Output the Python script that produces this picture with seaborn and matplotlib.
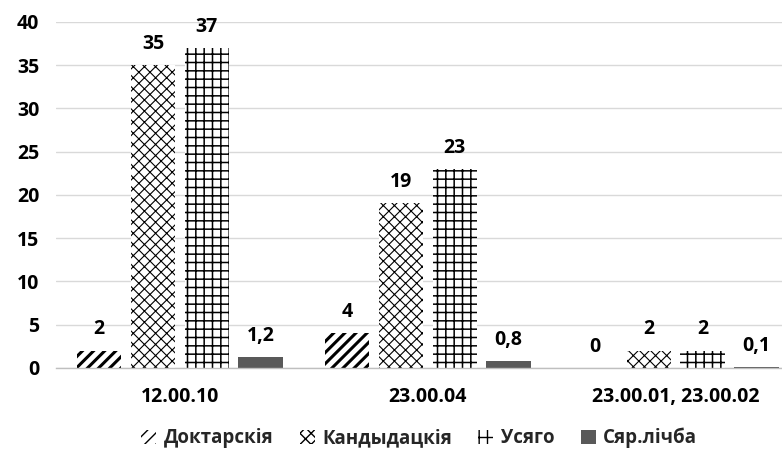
import matplotlib
matplotlib.use("Agg")
import matplotlib.pyplot as plt
import matplotlib.patches as mpatches
import pandas as pd
import seaborn as sns

categories = ["12.00.10", "23.00.04", "23.00.01, 23.00.02"]
series = ["Доктарскія", "Кандыдацкія", "Усяго", "Сяр.лічба"]
doktarskija = [2, 4, 0]
kandydackija = [35, 19, 2]
usiaho = [37, 23, 2]
siar_lichba = [1.2, 0.8, 0.1]
y_ticks = [0, 5, 10, 15, 20, 25, 30, 35, 40]

values = [doktarskija, kandydackija, usiaho, siar_lichba]
rows = []
for name, vals in zip(series, values):
    for cat, v in zip(categories, vals):
        rows.append({"cat": cat, "series": name, "value": v})
df = pd.DataFrame(rows)

sns.set_theme(style="white")
plt.rcParams["font.family"] = ["Open Sans", "DejaVu Sans"]
plt.rcParams["font.weight"] = "bold"
plt.rcParams["hatch.linewidth"] = 1.0

# hatch, face colour, hatch line width
styles = [
    ("///", "white", 2.2),
    ("xxx", "white", 0.8),
    ("++", "white", 1.1),
    ("", "#595959", 0.0),
]

fig = plt.figure(figsize=(7.82, 4.53), dpi=100)
# the plot area runs a little past the right edge, as in the source image
ax = fig.add_axes([0.0716, 0.188, 0.951, 0.764])

sns.barplot(data=df, x="cat", y="value", hue="series", order=categories,
            hue_order=series, width=0.868, gap=0.175, legend=False, ax=ax,
            errorbar=None)

for cont, (hatch, face, hlw) in zip(ax.containers, styles):
    for bar in cont:
        bar.set_facecolor(face)
        bar.set_edgecolor("black")
        bar.set_hatch(hatch)
        bar.set_linewidth(0)
        if hatch:
            bar.set_hatch_linewidth(hlw)
    labels = [f"{v:g}".replace(".", ",") for v in cont.datavalues]
    ax.bar_label(cont, labels=labels, padding=8, fontsize=14,
                 fontweight="bold", color="black")

ax.set_ylim(0, 40)
ax.set_yticks(y_ticks)
ax.set_xlim(-0.5, 2.5)
ax.yaxis.grid(True, color="#d9d9d9", linewidth=1)
ax.set_axisbelow(True)
for s in ["top", "right", "left"]:
    ax.spines[s].set_visible(False)
ax.spines["bottom"].set_color("#bfbfbf")
ax.spines["bottom"].set_linewidth(1)
ax.set_xlabel("")
ax.set_ylabel("")
ax.tick_params(axis="both", length=0, labelsize=14, colors="black")
ax.tick_params(axis="x", pad=14)
ax.tick_params(axis="y", pad=12)
for t in ax.get_xticklabels() + ax.get_yticklabels():
    t.set_fontweight("bold")

handles = []
for name, (hatch, face, hlw) in zip(series, styles):
    p = mpatches.Patch(facecolor=face, edgecolor="black", hatch=hatch,
                       linewidth=0, label=name)
    handles.append(p)
leg = fig.legend(handles=handles, loc="center", bbox_to_anchor=(0.536, 0.033),
                 ncol=4, frameon=False, fontsize=13.5, handlelength=0.8,
                 handleheight=0.8, handletextpad=0.4, columnspacing=1.4)
for t in leg.get_texts():
    t.set_fontweight("bold")

fig.savefig("out.png", dpi=100)
